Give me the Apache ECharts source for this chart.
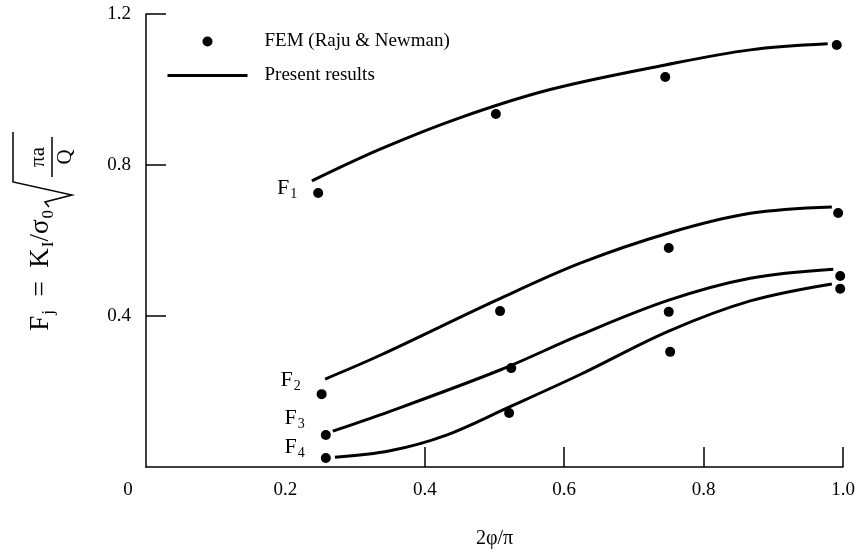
<!DOCTYPE html>
<html>
<head>
<meta charset="utf-8">
<script src="https://cdn.jsdelivr.net/npm/echarts@6/dist/echarts.min.js"></script>
<style>
  html, body { margin: 0; padding: 0; background: #fff; }
  #chart { width: 860px; height: 556px; }
</style>
</head>
<body>
<div id="chart"></div>
<script>
// FEM points (Raju & Newman), [2φ/π, F]
const femF1 = [[0.247, 0.726], [0.502, 0.935], [0.745, 1.033], [0.991, 1.118]];
const femF2 = [[0.252, 0.193], [0.508, 0.413], [0.750, 0.580], [0.993, 0.673]];
const femF3 = [[0.258, 0.085], [0.524, 0.262], [0.750, 0.411], [0.996, 0.506]];
const femF4 = [[0.258, 0.024], [0.521, 0.143], [0.752, 0.305], [0.996, 0.472]];

// present results (curves)
const curveF1 = [[0.238, 0.758], [0.336, 0.842], [0.45, 0.925], [0.58, 1.0], [0.745, 1.065], [0.867, 1.105], [0.978, 1.121]];
const curveF2 = [[0.257, 0.233], [0.336, 0.296], [0.503, 0.442], [0.623, 0.540], [0.750, 0.620], [0.867, 0.672], [0.984, 0.689]];
const curveF3 = [[0.268, 0.095], [0.336, 0.138], [0.508, 0.257], [0.623, 0.350], [0.750, 0.442], [0.867, 0.500], [0.986, 0.524]];
const curveF4 = [[0.271, 0.026], [0.35, 0.043], [0.43, 0.084], [0.52, 0.158], [0.623, 0.245], [0.750, 0.360], [0.867, 0.440], [0.984, 0.485]];

const curveNames = ['1', '2', '3', '4'];
const xTicks = [0.4, 0.6, 0.8, 1.0];
const yTicks = [0.4, 0.8, 1.2];

const femName = 'FEM (Raju & Newman)';
const lineName = 'Present results';

const ink = '#000';
const serif = '"Liberation Serif", "DejaVu Serif", serif';

const chart = echarts.init(document.getElementById('chart'));

const femSets = [femF1, femF2, femF3, femF4];
const curveSets = [curveF1, curveF2, curveF3, curveF4];
const labelOffsets = [[0, -5], [0, -14], [0, -17], [0, -11]];

const series = [];
curveSets.forEach((c) => {
  series.push({
    name: lineName,
    type: 'line',
    data: c,
    smooth: 0.35,
    symbol: 'none',
    lineStyle: { color: ink, width: 3 },
    itemStyle: { color: ink },
    z: 2,
  });
});
femSets.forEach((p, i) => {
  series.push({
    name: femName,
    type: 'scatter',
    symbol: 'circle',
    symbolSize: 10,
    itemStyle: { color: ink, opacity: 1 },
    z: 3,
    data: p.map((d, j) => {
      if (j !== 0) return d;
      return {
        value: d,
        label: {
          show: true,
          position: 'left',
          distance: 16,
          offset: labelOffsets[i],
          formatter: '{f|F}{s|' + curveNames[i] + '}',
          rich: {
            f: { fontFamily: serif, fontSize: 22, color: ink },
            s: { fontFamily: serif, fontSize: 14, color: ink, padding: [12, 0, 0, 1] },
          },
        },
      };
    }),
  });
});

const option = {
  backgroundColor: '#fff',
  animation: false,
  grid: { left: 146, right: 17, top: 14, bottom: 89 },
  legend: {
    orient: 'vertical',
    left: 161,
    top: 27,
    itemWidth: 80,
    itemHeight: 10,
    itemGap: 15,
    data: [
      { name: femName, icon: 'circle' },
      {
        name: lineName,
        itemStyle: { color: 'rgba(0,0,0,0)', borderWidth: 0, opacity: 0 },
        lineStyle: { color: ink, width: 3, opacity: 1 },
      },
    ],
    textStyle: { fontFamily: serif, fontSize: 19, color: ink, padding: [0, 0, 0, 12] },
  },
  xAxis: {
    type: 'value',
    min: 0,
    max: 1,
    interval: 0.2,
    name: '2φ/π',
    nameLocation: 'middle',
    nameGap: 62,
    nameTextStyle: { fontFamily: serif, fontSize: 20, color: ink },
    axisLine: { lineStyle: { color: ink, width: 1.5 } },
    axisTick: { inside: true, length: 20, customValues: xTicks, lineStyle: { color: ink, width: 1.5 } },
    splitLine: { show: false },
    axisLabel: {
      margin: 14,
      fontFamily: serif,
      fontSize: 19,
      color: ink,
      formatter: (v) => (v === 0 ? '{z|0}' : v.toFixed(1)),
      rich: { z: { fontFamily: serif, fontSize: 19, color: ink, padding: [0, 36, 0, 0] } },
    },
  },
  yAxis: {
    type: 'value',
    min: 0,
    max: 1.2,
    interval: 0.4,
    axisLine: { show: true, lineStyle: { color: ink, width: 1.5 } },
    axisTick: { show: true, inside: true, length: 20, customValues: yTicks, lineStyle: { color: ink, width: 1.5 } },
    splitLine: { show: false },
    axisLabel: {
      margin: 15,
      fontFamily: serif,
      fontSize: 19,
      color: ink,
      formatter: (v) => (v === 0 ? '' : v.toFixed(1)),
    },
  },
  graphic: [
    {
      type: 'group',
      x: 41,
      y: 207,
      rotation: Math.PI / 2,
      children: [
        {
          type: 'text',
          x: -3,
          y: 0,
          style: {
            text: '{a|F}{b|j}{a|  =  K}{b|I}{a|/σ}{b|0}',
            align: 'right',
            verticalAlign: 'middle',
            rich: {
              a: { fontFamily: serif, fontSize: 27, color: ink },
              b: { fontFamily: serif, fontSize: 17, color: ink, padding: [15, 0, 0, 1] },
            },
          },
        },
        {
          type: 'polyline',
          shape: { points: [[0, 8], [5, 4], [12, 31], [25, -28], [75, -28]] },
          style: { stroke: ink, lineWidth: 1.5, fill: null },
        },
        {
          type: 'text',
          x: 50,
          y: -3,
          style: { text: 'πa', fontFamily: serif, fontSize: 21, fill: ink, align: 'center', verticalAlign: 'middle' },
        },
        {
          type: 'line',
          shape: { x1: 30, y1: 11, x2: 70, y2: 11 },
          style: { stroke: ink, lineWidth: 1.5 },
        },
        {
          type: 'text',
          x: 50,
          y: 24,
          style: { text: 'Q', fontFamily: serif, fontSize: 21, fill: ink, align: 'center', verticalAlign: 'middle' },
        },
      ],
    },
  ],
  series: series,
};

option && chart.setOption(option);
</script>
</body>
</html>
